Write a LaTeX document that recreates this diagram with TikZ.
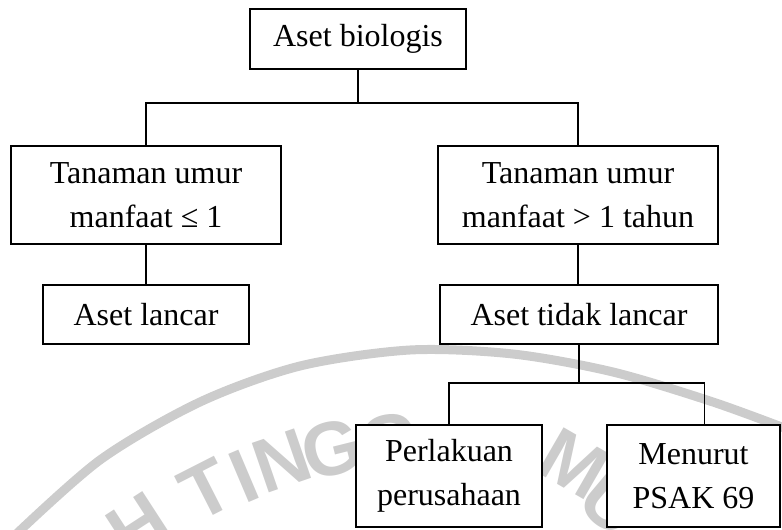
\documentclass[tikz,border=0pt]{standalone}
\usepackage{fontspec}
\setmainfont{Liberation Serif}
\newfontfamily\wmfont{Liberation Sans}
\definecolor{wmgray}{gray}{0.8}

\begin{document}
\begin{tikzpicture}[x=0.5pt, y=-0.5pt,
  every node/.style={font=\fontsize{16}{22}\selectfont},
  box/.style={draw, fill=white, line width=0.7pt, align=center, inner sep=0pt},
  conn/.style={line width=0.7pt},
  wm/.style={text=wmgray, inner sep=0pt, font=\wmfont\bfseries\fontsize{38}{38}\selectfont}]

  \useasboundingbox (0,0) rectangle (782,530);

  % Watermark ring and letters (drawn first, boxes cover them)
  \draw[wmgray, line width=4.5pt] plot[smooth] coordinates
    {(10,540) (100,460) (200,402) (300,366) (410,350) (513,354) (613,372) (713,402) (795,432)};
  \node[wm, rotate=33] (wmH) at (138,526) {H};
  \node[wm, rotate=27] (wmT) at (206,490) {T};
  \node[wm, rotate=23] (wmI) at (244,476) {I};
  \node[wm, rotate=19] (wmN) at (282,461) {N};
  \node[wm, rotate=14] (wmG) at (332,449) {G};
  \node[wm, rotate=10] (wmGb) at (390,442) {G};
  \node[wm, rotate=-30] (wmM) at (574,464) {M};
  \node[wm, rotate=-40] (wmU) at (612,503) {U};

  % Boxes, centres given in pixels of the page
  \node[box, minimum width=108pt, minimum height=30pt] (bio) at (358,39) {Aset biologis};
  \node[box, minimum width=135pt, minimum height=49pt] (kiri) at (146,195) {Tanaman umur\\manfaat ≤ 1};
  \node[box, minimum width=140pt, minimum height=49pt] (kanan) at (578,195) {Tanaman umur\\manfaat > 1 tahun};
  \node[box, minimum width=103pt, minimum height=29.5pt] (lancar) at (146,314.5) {Aset lancar};
  \node[box, minimum width=139pt, minimum height=29.5pt] (tdklancar) at (579,314.5) {Aset tidak lancar};
  \node[box, minimum width=93pt, minimum height=51pt] (perlakuan) at (449,476) {Perlakuan\\perusahaan};
  \node[box, minimum width=86.5pt, minimum height=51pt] (psak) at (693.5,476) {Menurut\\PSAK 69};

  % Connectors
  \coordinate (cab1) at (358,103);
  \coordinate (cab2) at (579,383);
  \draw[conn] (bio.south) -- (cab1);
  \draw[conn] (kiri.north) |- (cab1) -| (kanan.north);
  \draw[conn] (kiri.south) -- (lancar.north);
  \draw[conn] (kanan.south) -- (kanan.south |- tdklancar.north);
  \draw[conn] (tdklancar.south) -- (cab2);
  \draw[conn] (perlakuan.north) |- (cab2) -| ([xshift=5.5pt]psak.north);

\end{tikzpicture}
\end{document}
